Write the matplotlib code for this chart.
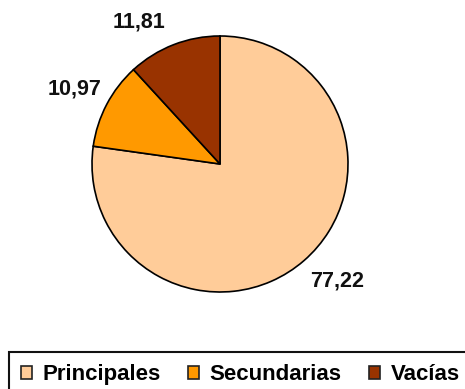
import numpy as np
import matplotlib
matplotlib.use("Agg")
import matplotlib.pyplot as plt
from matplotlib.patches import Patch, Rectangle

categories = ["Principales", "Secundarias", "Vacías"]
values = [77.22, 10.97, 11.81]
value_labels = ["77,22", "10,97", "11,81"]
colors = ["#FFCC99", "#FF9900", "#993300"]

plt.rcParams["font.family"] = ["Liberation Sans", "DejaVu Sans"]

W, H = 465, 389
fig = plt.figure(figsize=(W / 100, H / 100), dpi=100)
ax = fig.add_axes([0, 0, 1, 1])

cx, cy, r = 220, H - 164, 128
wedges, _ = ax.pie(values, colors=colors, startangle=90, counterclock=False,
                   center=(cx, cy), radius=r, frame=True,
                   wedgeprops=dict(edgecolor="black", linewidth=1.2))
ax.set_xlim(0, W)
ax.set_ylim(0, H)
ax.set_aspect("equal")
ax.axis("off")

# label placement: angle offset (deg) and radial distance factor per wedge
label_adjust = [(4, 1.29), (0.5, 1.28), (8.5, 1.28)]
for w, txt, (da, dist) in zip(wedges, value_labels, label_adjust):
    mid = np.deg2rad((w.theta1 + w.theta2) / 2 + da)
    x = cx + dist * r * np.cos(mid)
    y = cy + dist * r * np.sin(mid)
    ax.text(x, y, txt, ha="center", va="center", fontsize=15.5,
            fontweight="bold", color="#111111")

# legend box runs off the right and bottom edges
ax.add_patch(Rectangle((9, -20), W + 20, H - 352 + 20, facecolor="white",
                       edgecolor="#111111", linewidth=1.5, clip_on=True, zorder=1))

handles = [Patch(facecolor=c, edgecolor="#222222", linewidth=1.2) for c in colors]
leg = fig.legend(handles, categories, ncol=3, loc="upper left",
                 bbox_to_anchor=(9 / W, 1 - 352 / H),
                 prop=dict(size=16, weight="bold"),
                 handlelength=0.5, handleheight=0.5, handletextpad=0.45,
                 columnspacing=1.25, borderpad=0.55, borderaxespad=0,
                 fancybox=False, frameon=False)

fig.savefig("out.png", dpi=100)
